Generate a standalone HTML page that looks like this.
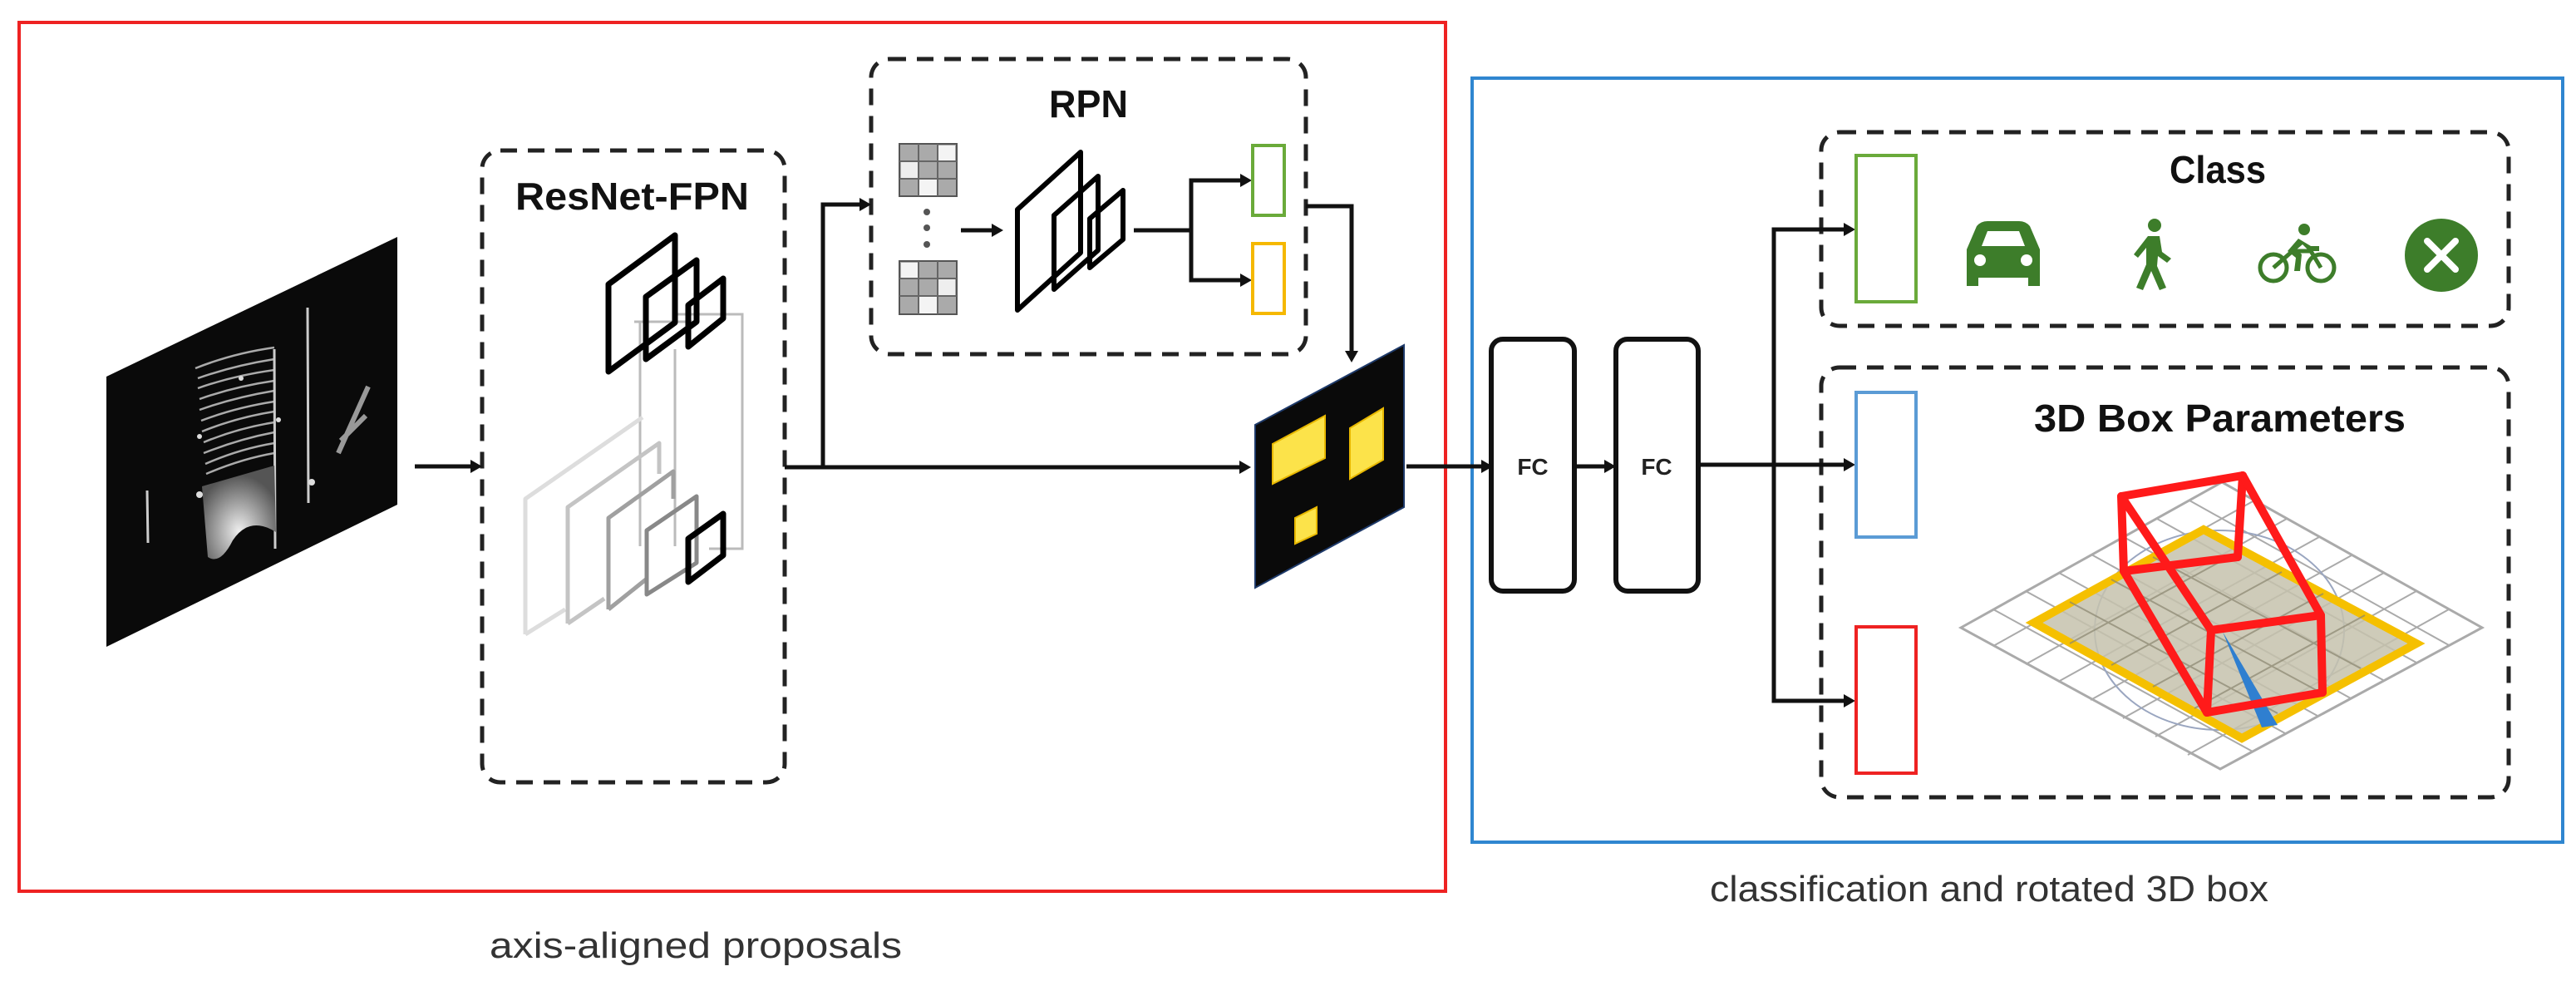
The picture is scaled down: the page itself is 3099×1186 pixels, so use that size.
<!DOCTYPE html>
<html><head><meta charset="utf-8"><style>
html,body{margin:0;padding:0;background:#fff;}
svg{display:block;}
text{font-family:"Liberation Sans",sans-serif;}
</style></head><body>
<svg width="3099" height="1186" viewBox="0 0 3099 1186" xmlns="http://www.w3.org/2000/svg">
<defs>
<radialGradient id="blob" cx="0.5" cy="0.7" r="0.6">
<stop offset="0" stop-color="#eee"/><stop offset="1" stop-color="#555"/>
</radialGradient>
</defs>
<rect width="3099" height="1186" fill="#fff"/>
<!-- red box -->
<rect x="23" y="27" width="1716" height="1045" fill="none" stroke="#ee2222" stroke-width="4"/>
<!-- blue box -->
<rect x="1771" y="94" width="1312" height="919" fill="none" stroke="#2f86d0" stroke-width="4"/>
<text x="589" y="1152" font-size="44" fill="#333" textLength="496" lengthAdjust="spacingAndGlyphs">axis-aligned proposals</text>
<text x="2057" y="1084" font-size="44" fill="#333" textLength="672" lengthAdjust="spacingAndGlyphs">classification and rotated 3D box</text>

<!-- point cloud -->
<polygon points="128,453 478,285 478,607 128,778" fill="#0a0a0a"/>
<g stroke="#aaa" stroke-width="2.5" fill="none">
<path d="M235,443 Q280,425 330,418 M238,455 Q280,440 330,432 M238,467 Q280,452 330,445 M240,480 Q282,465 330,458 M240,493 Q282,478 330,470 M242,506 Q284,490 330,483 M243,519 Q285,502 330,495 M245,532 Q286,515 330,508 M245,545 Q288,528 330,520 M247,558 Q288,540 330,533 M248,570 Q290,552 330,545"/>
<path d="M330,420 L331,660 M370,370 L371,605 M177,590 L178,653" stroke="#ccc" stroke-width="3"/>
<path d="M407,545 L443,465 M410,530 L440,500" stroke="#999" stroke-width="6"/>
</g>
<path d="M243,585 L330,560 L332,640 Q300,620 280,650 Q265,680 250,670 Z" fill="url(#blob)"/>
<g fill="#ddd"><circle cx="240" cy="595" r="4"/><circle cx="335" cy="505" r="3"/><circle cx="240" cy="525" r="3"/><circle cx="375" cy="580" r="4"/><circle cx="290" cy="455" r="3"/></g>

<!-- dashed boxes -->
<g fill="none" stroke="#222" stroke-width="5" stroke-dasharray="20 13">
<rect x="580" y="181" width="364" height="760" rx="22"/>
<rect x="1048" y="71" width="523" height="355" rx="22"/>
<rect x="2191" y="159" width="827" height="233" rx="22"/>
<rect x="2191" y="442" width="827" height="517" rx="22"/>
</g>
<g font-weight="bold" font-size="46" fill="#111">
<text x="620" y="252" textLength="281" lengthAdjust="spacingAndGlyphs">ResNet-FPN</text>
<text x="1262" y="141" textLength="95" lengthAdjust="spacingAndGlyphs">RPN</text>
<text x="2610" y="220" textLength="116" lengthAdjust="spacingAndGlyphs">Class</text>
<text x="2447" y="519" textLength="447" lengthAdjust="spacingAndGlyphs">3D Box Parameters</text>
</g>

<!-- FPN -->
<g fill="none" stroke-width="3" stroke="#bbb">
<path d="M770,387 L770,657 M812,420 L812,657 M813,378 L893,378 L893,660 L853,660 M763,387 L833,387"/>
</g>
<g fill="none" stroke-width="5" stroke-linejoin="round">
<path d="M632,763 L632,600 L773,502 M632,763 L680,733" stroke="#ddd"/>
<path d="M683,750 L683,610 L793,533 L793,570 M683,750 L727,720" stroke="#c4c4c4"/>
<path d="M732,733 L732,623 L810,567 L810,600 M732,733 L777,697" stroke="#a0a0a0"/>
<path d="M778,715 L778,638 L838,597 L838,677 Z" stroke="#888"/>
<path d="M828,700 L828,648 L870,618 L870,668 Z" stroke="#000" stroke-width="7"/>
<path d="M732,447 L732,342 L812,283 L812,388 Z" stroke="#000" stroke-width="7"/>
<path d="M777,432 L777,357 L838,313 L838,387 Z" stroke="#000" stroke-width="7"/>
<path d="M828,417 L828,367 L870,335 L870,383 Z" stroke="#000" stroke-width="7"/>
</g>

<!-- connectors -->
<g stroke="#111" stroke-width="5" fill="none">
<line x1="499" y1="561" x2="570" y2="561"/>
<line x1="944" y1="562" x2="1495" y2="562"/>
<polyline points="990,562 990,246 1038,246"/>
<line x1="1156" y1="277" x2="1197" y2="277"/>
<line x1="1364" y1="277" x2="1433" y2="277"/>
<polyline points="1496,217 1433,217 1433,337 1496,337"/>
<polyline points="1571,248 1626,248 1626,425"/>
<line x1="1692" y1="561" x2="1786" y2="561"/>
<line x1="1894" y1="561" x2="1936" y2="561"/>
<line x1="2043" y1="559" x2="2222" y2="559"/>
<polyline points="2222,276 2134,276 2134,843 2222,843"/>
</g>
<g fill="#111">
<polygon points="580,561 566,553 566,569"/>
<polygon points="1505,562 1491,554 1491,570"/>
<polygon points="1048,246 1034,238 1034,254"/>
<polygon points="1207,277 1193,269 1193,285"/>
<polygon points="1506,217 1492,209 1492,225"/>
<polygon points="1506,337 1492,329 1492,345"/>
<polygon points="1626,436 1618,422 1634,422"/>
<polygon points="1796,561 1782,553 1782,569"/>
<polygon points="1944,561 1930,553 1930,569"/>
<polygon points="2232,276 2218,268 2218,284"/>
<polygon points="2232,559 2218,551 2218,567"/>
<polygon points="2232,843 2218,835 2218,851"/>
</g>

<!-- RPN contents -->
<g stroke="#555" stroke-width="2">
<rect x="1082" y="173" width="69" height="63" fill="#aaa"/>
<rect x="1082" y="314" width="69" height="64" fill="#aaa"/>
<rect x="1128" y="175" width="21" height="19" fill="#f4f4f4" stroke="none"/>
<rect x="1084" y="194" width="22" height="21" fill="#eee" stroke="none"/>
<rect x="1106" y="215" width="22" height="20" fill="#f4f4f4" stroke="none"/>
<rect x="1084" y="316" width="22" height="20" fill="#f4f4f4" stroke="none"/>
<rect x="1128" y="336" width="21" height="21" fill="#eee" stroke="none"/>
<rect x="1106" y="357" width="22" height="20" fill="#f4f4f4" stroke="none"/>
<path d="M1105,173 V236 M1128,173 V236 M1082,194 H1151 M1082,215 H1151" stroke="#666"/>
<path d="M1105,314 V378 M1128,314 V378 M1082,335 H1151 M1082,356 H1151" stroke="#666"/>
</g>
<g fill="#555"><circle cx="1115" cy="255" r="4"/><circle cx="1115" cy="274" r="4"/><circle cx="1115" cy="294" r="4"/></g>
<g fill="none" stroke="#000" stroke-width="6" stroke-linejoin="round">
<path d="M1224,373 L1224,252 L1300,183 L1300,304 Z"/>
<path d="M1268,348 L1268,259 L1321,212 L1321,301 Z"/>
<path d="M1311,322 L1311,263 L1351,229 L1351,288 Z"/>
</g>
<rect x="1507" y="175" width="38" height="84" fill="#fff" stroke="#6aaa3a" stroke-width="4"/>
<rect x="1507" y="293" width="38" height="84" fill="#fff" stroke="#f5b800" stroke-width="4"/>

<!-- proposal map -->
<polygon points="1510,511 1689,415 1689,610 1510,707" fill="#0a0a0a" stroke="#1e3a6a" stroke-width="2"/>
<polygon points="1531,534 1594,500 1594,551 1531,582" fill="#fce34a" stroke="#e8b800" stroke-width="2"/>
<polygon points="1624,515 1664,491 1664,553 1624,576" fill="#fce34a" stroke="#e8b800" stroke-width="2"/>
<polygon points="1558,623 1584,610 1584,642 1558,654" fill="#fce34a" stroke="#e8b800" stroke-width="2"/>

<!-- FC -->
<rect x="1794" y="408" width="100" height="303" rx="14" fill="#fff" stroke="#111" stroke-width="6"/>
<rect x="1944" y="408" width="99" height="303" rx="14" fill="#fff" stroke="#111" stroke-width="6"/>
<text x="1844" y="571" font-size="28" font-weight="bold" text-anchor="middle" fill="#222">FC</text>
<text x="1993" y="571" font-size="28" font-weight="bold" text-anchor="middle" fill="#222">FC</text>

<!-- output rects -->
<rect x="2233" y="187" width="72" height="176" fill="#fff" stroke="#6aaa3a" stroke-width="4"/>
<rect x="2233" y="472" width="72" height="174" fill="#fff" stroke="#5b9bd5" stroke-width="4"/>
<rect x="2233" y="754" width="72" height="176" fill="#fff" stroke="#ee2222" stroke-width="4"/>

<!-- icons -->
<g fill="#3d7d2a">
<path d="M2366,344 L2366,300 L2378,272 Q2383,266 2391,266 L2429,266 Q2437,266 2442,272 L2454,300 L2454,344 L2440,344 L2440,334 L2380,334 L2380,344 Z"/>
<path d="M2384,296 L2391,278 L2429,278 L2436,296 Z" fill="#fff"/>
<circle cx="2382" cy="313" r="7" fill="#fff"/><circle cx="2438" cy="313" r="7" fill="#fff"/>
<circle cx="2592" cy="271" r="8"/>
<path d="M2584,284 L2598,284 L2601,303 L2612,311 L2607,316 L2596,308 L2595,320 L2606,346 L2598,349 L2588,326 L2578,349 L2570,346 L2582,318 L2582,298 L2572,310 L2567,306 Z"/>
<circle cx="2772" cy="276" r="7"/>
<path d="M2765,287 L2752,302 L2762,310 L2760,326 L2767,326 L2769,306 L2763,300 L2770,294 L2778,302 L2790,302 L2790,296 L2780,296 Z"/>
</g>
<g fill="none" stroke="#3d7d2a" stroke-width="5">
<circle cx="2735" cy="322" r="16"/><circle cx="2792" cy="322" r="16"/>
<path d="M2735,322 L2758,302 L2780,302 L2792,322"/>
</g>
<circle cx="2937" cy="307" r="44" fill="#3d7d2a"/>
<path d="M2920,290 L2954,324 M2954,290 L2920,324" stroke="#fff" stroke-width="8" stroke-linecap="round"/>

<!-- 3D illustration -->
<g>
<polygon points="2359,755 2673,580 2986,755 2671,925" fill="#fff" stroke="#aaa" stroke-width="3"/>
<g stroke="#aaa" stroke-width="2" fill="none">
<path d="M2398,777 L2712,602 M2437,799 L2751,624 M2476,820 L2790,646 M2515,842 L2829,668 M2554,864 L2868,689 M2593,886 L2907,711 M2632,908 L2946,733"/>
<path d="M2398,733 L2710,904 M2437,711 L2749,882 M2477,689 L2788,861 M2516,667 L2828,840 M2555,646 L2867,818 M2595,624 L2907,797 M2634,602 L2946,776"/>
</g>
<ellipse cx="2670" cy="758" rx="150" ry="120" fill="none" stroke="#9aa6c0" stroke-width="2"/>
<polygon points="2447,749 2651,637 2907,774 2697,888" fill="#c6c2ad" fill-opacity="0.85" stroke="#f5c000" stroke-width="10"/>
<g stroke="#8a8670" stroke-width="2" fill="none" opacity="0.7">
<path d="M2490,774 L2696,662 M2540,800 L2745,688 M2590,826 L2795,714 M2640,852 L2845,740"/>
<path d="M2490,724 L2740,858 M2540,697 L2790,832 M2590,670 L2840,804"/>
</g>
<polygon points="2674,760 2721,875 2740,872" fill="#2f7fd0"/>
<g stroke="#ff1a1a" stroke-width="10" fill="none" stroke-linejoin="round" stroke-linecap="round">
<path d="M2552,597 L2698,572"/>
<path d="M2552,597 L2555,687 L2655,857"/>
<path d="M2698,572 L2692,670"/>
<path d="M2555,687 L2692,670"/>
<path d="M2552,597 L2660,758 L2655,857"/>
<path d="M2698,572 L2792,740 L2794,833"/>
<path d="M2660,758 L2792,740"/>
<path d="M2655,857 L2794,833"/>
</g>
</g>
</svg>
</body></html>
